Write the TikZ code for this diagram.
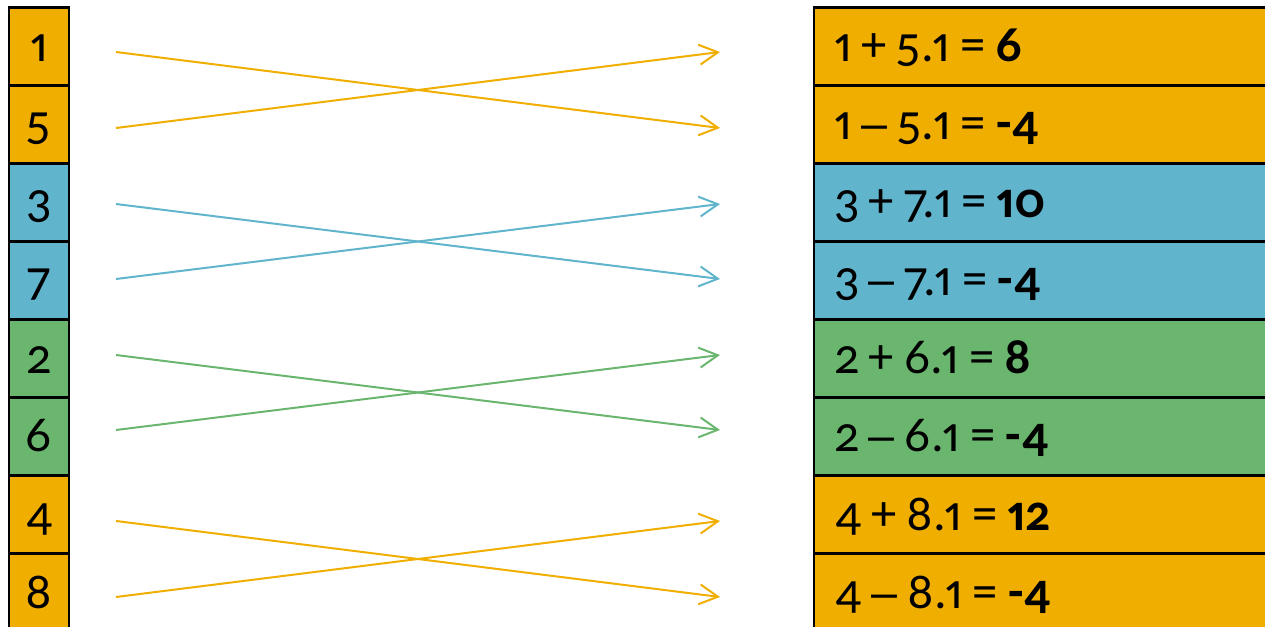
\documentclass[tikz,border=0pt]{standalone}
\usepackage{fontspec}
\setmainfont{Carlito}[Numbers={OldStyle,Proportional}]
\newfontfamily\dashfont{Liberation Sans}
\usetikzlibrary{arrows.meta}
\definecolor{cO}{HTML}{F0AE00}
\definecolor{cB}{HTML}{60B4CC}
\definecolor{cG}{HTML}{6AB66E}
\newcommand\cellfont{\fontsize{38}{44}\selectfont}
\newcommand\g{\kern 7.5pt\relax}
\newcommand\mn{\g{\dashfont\fontsize{35}{42}\selectfont –}\g}
\begin{document}
\begin{tikzpicture}[x=0.75pt,y=-0.75pt,
  cell/.style={draw=black, line width=1.9pt, minimum height=58.5pt, inner sep=0pt,
    text height=23.25pt, text depth=0pt, font=\cellfont},
  lbox/.style={cell, minimum width=45pt},
  rbox/.style={cell, text width=312pt, align=left, inner xsep=15pt},
  link/.style={line width=1.5pt, -{Straight Barb[length=14pt,width=15pt,line width=1.5pt]}}]
\useasboundingbox (0,0) rectangle (1265,627);
\foreach \i/\d/\c/\e in {
  1/1/cO/{1\g+\g5.1\g=\g\textbf{6}},
  2/5/cO/{1\mn5.1\g=\g\textbf{-4}},
  3/3/cB/{3\g+\g7.1\g=\g\textbf{10}},
  4/7/cB/{3\mn7.1\g=\g\textbf{-4}},
  5/2/cG/{2\g+\g6.1\g=\g\textbf{8}},
  6/6/cG/{2\mn6.1\g=\g\textbf{-4}},
  7/4/cO/{4\g+\g8.1\g=\g\textbf{12}},
  8/8/cO/{4\mn8.1\g=\g\textbf{-4}}}{
  \node[lbox, fill=\c] (L\i) at (39, {46.5+78*(\i-1)}) {\d};
  \node[rbox, fill=\c] (R\i) at (1042, {46.5+78*(\i-1)}) {\e};
}
\foreach \k/\c/\ya/\yb in {1/cO/52/128, 2/cB/204/279, 3/cG/355/430, 4/cO/521/597}{
  \coordinate (s\k a) at (116,\ya);
  \coordinate (s\k b) at (116,\yb);
  \coordinate (t\k a) at (720,\ya);
  \coordinate (t\k b) at (720,\yb);
  \draw[link, draw=\c] (s\k a) -- (t\k b);
  \draw[link, draw=\c] (s\k b) -- (t\k a);
}
\end{tikzpicture}
\end{document}
